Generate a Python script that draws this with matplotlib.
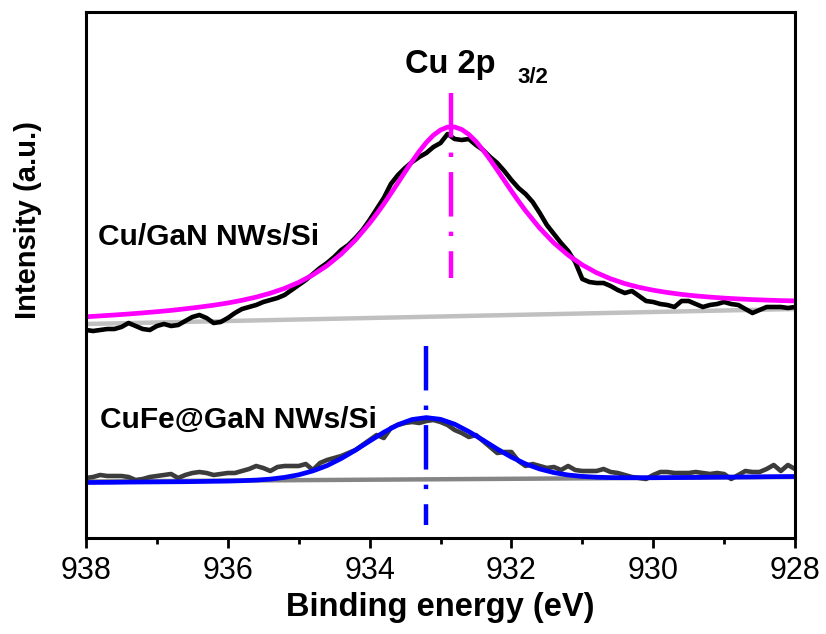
import numpy as np
import matplotlib

matplotlib.use("Agg")
import matplotlib.pyplot as plt  # noqa: E402
from matplotlib.ticker import MultipleLocator  # noqa: E402

plt.rcParams["font.family"] = ["Liberation Sans", "DejaVu Sans"]

# binding energy grids (eV)
energy_raw = np.round(np.arange(938.0, 927.95, -0.1), 1)
energy_fit = np.round(np.arange(938.0, 927.95, -0.2), 1)
# finer sampling of the Cu fit around its maximum
energy_cu_fit = np.round(np.concatenate([np.arange(938.0, 934.05, -0.2),
                                         np.arange(934.0, 931.85, -0.1),
                                         np.arange(931.8, 927.95, -0.2)]), 1)

# Cu/GaN NWs/Si: measured spectrum, fit and baseline (a.u.)
cu_raw = [208, 207, 208, 209, 209, 211, 215, 212, 209, 208,
          212, 214, 212, 213, 217, 221, 223, 220, 215, 216,
          220, 225, 229, 231, 233, 236, 238, 240, 243, 248,
          253, 258, 264, 270, 275, 281, 288, 293, 300, 308,
          318, 329, 340, 354, 363, 370, 376, 381, 385, 391,
          395, 404, 399, 398, 399, 393, 388, 381, 375, 367,
          358, 350, 344, 336, 325, 313, 304, 295, 287, 276,
          259, 256, 255, 255, 252, 248, 245, 247, 242, 237,
          236, 234, 233, 231, 237, 237, 234, 231, 233, 234,
          236, 234, 233, 229, 225, 228, 231, 231, 231, 230, 231]
cu_fit = [221.2, 222.1, 223.0, 224.0, 225.1, 226.3, 227.6, 229.2, 230.9, 232.8,
          235.0, 237.7, 240.9, 244.8, 249.6, 255.6, 263.1, 272.4, 284.0, 298.0,
          314.8, 324.1, 334.0, 344.5, 355.2, 366.1, 376.6, 386.6, 395.5, 402.8,
          408.0, 410.9, 411.0, 408.5, 403.5, 396.6, 387.9, 378.3, 368.0, 357.5,
          347.0, 336.9, 327.2, 309.8, 295.0, 282.9, 273.1, 265.3, 259.2, 254.4,
          250.7, 247.8, 245.5, 243.6, 242.1, 240.9, 239.9, 239.1, 238.4, 237.9,
          237.4, 237.1]
cu_base = [214, 229]

# CuFe@GaN NWs/Si
cufe_raw = [60, 61, 63, 62, 62, 62, 61, 58, 59, 61,
            62, 63, 64, 60, 63, 65, 66, 65, 63, 64,
            65, 65, 67, 69, 72, 70, 67, 71, 72, 72,
            72, 74, 68, 75, 78, 80, 82, 85, 88, 93,
            98, 103, 100, 110, 113, 115, 116, 115, 117, 118,
            116, 113, 108, 105, 101, 103, 97, 91, 85, 86,
            86, 77, 72, 74, 72, 70, 71, 68, 72, 68,
            67, 67, 67, 69, 66, 65, 63, 61, 60, 59,
            63, 66, 66, 65, 65, 65, 66, 65, 64, 65,
            64, 59, 63, 67, 66, 66, 69, 73, 67, 73, 69]
cufe_fit = [55.5, 55.6, 55.7, 55.9, 56.0, 56.1, 56.2, 56.3, 56.5, 56.7,
            56.9, 57.3, 57.9, 58.9, 60.6, 63.2, 67.1, 72.4, 79.5, 87.8,
            96.9, 105.7, 113.3, 118.5, 120.4, 118.7, 113.8, 106.4, 97.9, 89.0,
            80.9, 74.1, 69.0, 65.4, 63.0, 61.6, 60.8, 60.4, 60.3, 60.3,
            60.3, 60.4, 60.5, 60.6, 60.8, 60.9, 61.0, 61.1, 61.3, 61.4, 61.5]
cufe_base = [56.5, 61]

# peak positions and extent of the marker lines
peak_cu, peak_cu_span = 932.85, (445, 260)
peak_cufe, peak_cufe_span = 933.2, (192, 13)

MAGENTA = "#ff00ff"
BLUE = "#0000ff"
DASHDOT = (10, 3.4, 1, 3.4)

fig = plt.figure(figsize=(8.26, 6.34), dpi=100)
ax = fig.add_axes([86 / 826, 96 / 634, 709 / 826, 526 / 634])

ends = [energy_raw[0], energy_raw[-1]]
ax.plot(ends, cu_base, color="#c0c0c0", lw=3.2, solid_capstyle="butt")
ax.plot(energy_raw, cu_raw, color="black", lw=3.3)
ax.plot(energy_cu_fit, cu_fit, color=MAGENTA, lw=3.4)

ax.plot(ends, cufe_base, color="#858585", lw=3.2, solid_capstyle="butt")
ax.plot(energy_raw, cufe_raw, color="#3c3c3c", lw=3.3)
ax.plot(energy_fit, cufe_fit, color=BLUE, lw=3.4)

ax.plot([peak_cu, peak_cu], peak_cu_span, color=MAGENTA, lw=3.2, dashes=DASHDOT)
ax.plot([peak_cufe, peak_cufe], peak_cufe_span, color=BLUE, lw=3.2, dashes=DASHDOT)

ax.text(937.83, 293, "Cu/GaN NWs/Si", fontsize=21.5, fontweight="bold")
ax.text(937.80, 110, "CuFe@GaN NWs/Si", fontsize=21.5, fontweight="bold")
ax.text(933.50, 465, "Cu 2p", fontsize=23.5, fontweight="bold")
ax.text(931.92, 455, "3/2", fontsize=16, fontweight="bold")

ax.set_xlim(938, 928)
ax.set_ylim(0, 526)
ax.xaxis.set_major_locator(MultipleLocator(2))
ax.xaxis.set_minor_locator(MultipleLocator(1))
ax.set_yticks([])
ax.tick_params(axis="x", which="major", direction="out", length=7, width=2,
               labelsize=22, pad=6)
ax.tick_params(axis="x", which="minor", direction="out", length=4, width=2)
for sp in ax.spines.values():
    sp.set_linewidth(2.2)

ax.set_xlabel("Binding energy (eV)", fontsize=23.5, fontweight="bold", labelpad=4)
ax.set_ylabel("Intensity (a.u.)", fontsize=21, fontweight="bold")
ax.yaxis.set_label_coords(-0.062, 0.605)

fig.savefig("out.png", dpi=100)
